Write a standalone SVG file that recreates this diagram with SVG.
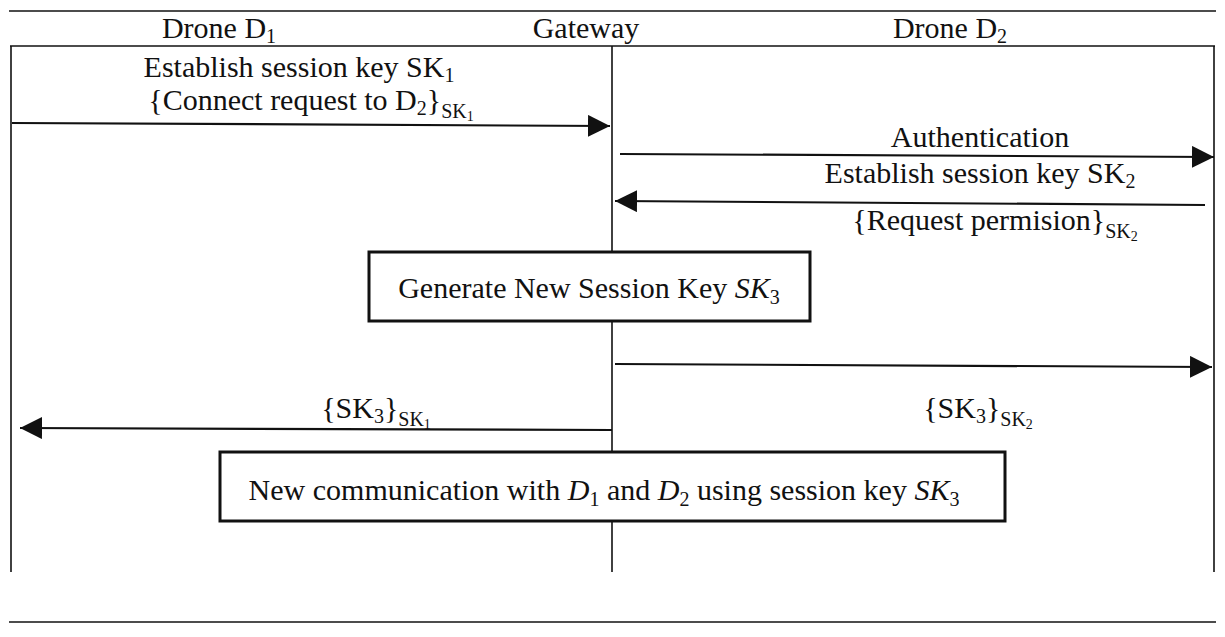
<svg xmlns="http://www.w3.org/2000/svg" width="1225" height="637" viewBox="0 0 1225 637">
<style>
.t{font-family:"Liberation Serif","Times New Roman",serif;font-size:30px;fill:#111}
.b{font-family:"Liberation Serif","Times New Roman",serif;font-size:30px;fill:#111}
.ln{stroke:#111;stroke-width:1.6;fill:none}
.ar{stroke:#111;stroke-width:2.2;fill:none}
.bx{stroke:#111;stroke-width:3;fill:#fff}
.i{font-style:italic}
</style>
<defs>
<marker id="ah" viewBox="0 0 10 10" refX="10" refY="5" markerWidth="22" markerHeight="22" markerUnits="userSpaceOnUse" orient="auto">
<path d="M0,0 L10,5 L0,10 Z" fill="#111"/>
</marker>
</defs>
<rect width="1225" height="637" fill="#fff"/>
<g id="frame">
<line class="ln" x1="9" y1="11" x2="1216" y2="11"/>
<line class="ln" x1="10" y1="46" x2="1215" y2="46"/>
<line class="ln" x1="11" y1="46" x2="11" y2="572"/>
<line class="ln" x1="1214" y1="46" x2="1214" y2="572"/>
<line class="ln" x1="9" y1="622" x2="1216" y2="622"/>
</g>
<g id="gateway-lifeline">
<line class="ln" x1="612" y1="46" x2="612" y2="572"/>
</g>
<g id="drone1">
<text class="t" x="219" y="38" text-anchor="middle">Drone D<tspan font-size="20" dy="5">1</tspan></text>
</g>
<g id="gateway">
<text class="t" x="586" y="38" text-anchor="middle">Gateway</text>
</g>
<g id="drone2">
<text class="t" x="950" y="38" text-anchor="middle">Drone D<tspan font-size="20" dy="5">2</tspan></text>
</g>
<g id="connectors">
<line class="ar" x1="12" y1="123" x2="610" y2="126" marker-end="url(#ah)"/>
<line class="ar" x1="620" y1="154" x2="1214" y2="157" marker-end="url(#ah)"/>
<line class="ar" x1="1205" y1="205" x2="615" y2="201" marker-end="url(#ah)"/>
<line class="ar" x1="615" y1="364" x2="1212" y2="367" marker-end="url(#ah)"/>
<line class="ar" x1="612" y1="430" x2="20" y2="428" marker-end="url(#ah)"/>
</g>
<g id="labels">
<text class="t" x="299" y="77" text-anchor="middle">Establish session key SK<tspan font-size="20" dy="5">1</tspan></text>
<text class="t" x="311" y="110" text-anchor="middle">{Connect request to D<tspan font-size="20" dy="5">2</tspan><tspan dy="-5">}</tspan><tspan font-size="20" dy="8">SK</tspan><tspan font-size="14" dy="3">1</tspan></text>
<text class="t" x="980" y="147" text-anchor="middle">Authentication</text>
<text class="t" x="980" y="183" text-anchor="middle">Establish session key SK<tspan font-size="20" dy="5">2</tspan></text>
<text class="t" x="995" y="230" text-anchor="middle">{Request permision}<tspan font-size="20" dy="8">SK</tspan><tspan font-size="14" dy="3">2</tspan></text>
<text class="t" x="376" y="418" text-anchor="middle">{SK<tspan font-size="20" dy="5">3</tspan><tspan dy="-5">}</tspan><tspan font-size="20" dy="8">SK</tspan><tspan font-size="14" dy="3">1</tspan></text>
<text class="t" x="978" y="418" text-anchor="middle">{SK<tspan font-size="20" dy="5">3</tspan><tspan dy="-5">}</tspan><tspan font-size="20" dy="8">SK</tspan><tspan font-size="14" dy="3">2</tspan></text>
</g>
<g id="generate-box">
<rect class="bx" x="369" y="252" width="441" height="69"/>
<text class="b" x="589" y="298" text-anchor="middle">Generate New Session Key <tspan class="i">SK</tspan><tspan font-size="20" dy="6">3</tspan></text>
</g>
<g id="communication-box">
<rect class="bx" x="220" y="452" width="785" height="69"/>
<text class="b" x="604" y="500" text-anchor="middle">New communication with <tspan class="i">D</tspan><tspan font-size="20" dy="6">1</tspan><tspan dy="-6"> and </tspan><tspan class="i">D</tspan><tspan font-size="20" dy="6">2</tspan><tspan dy="-6"> using session key </tspan><tspan class="i">SK</tspan><tspan font-size="20" dy="6">3</tspan></text>
</g>
</svg>
